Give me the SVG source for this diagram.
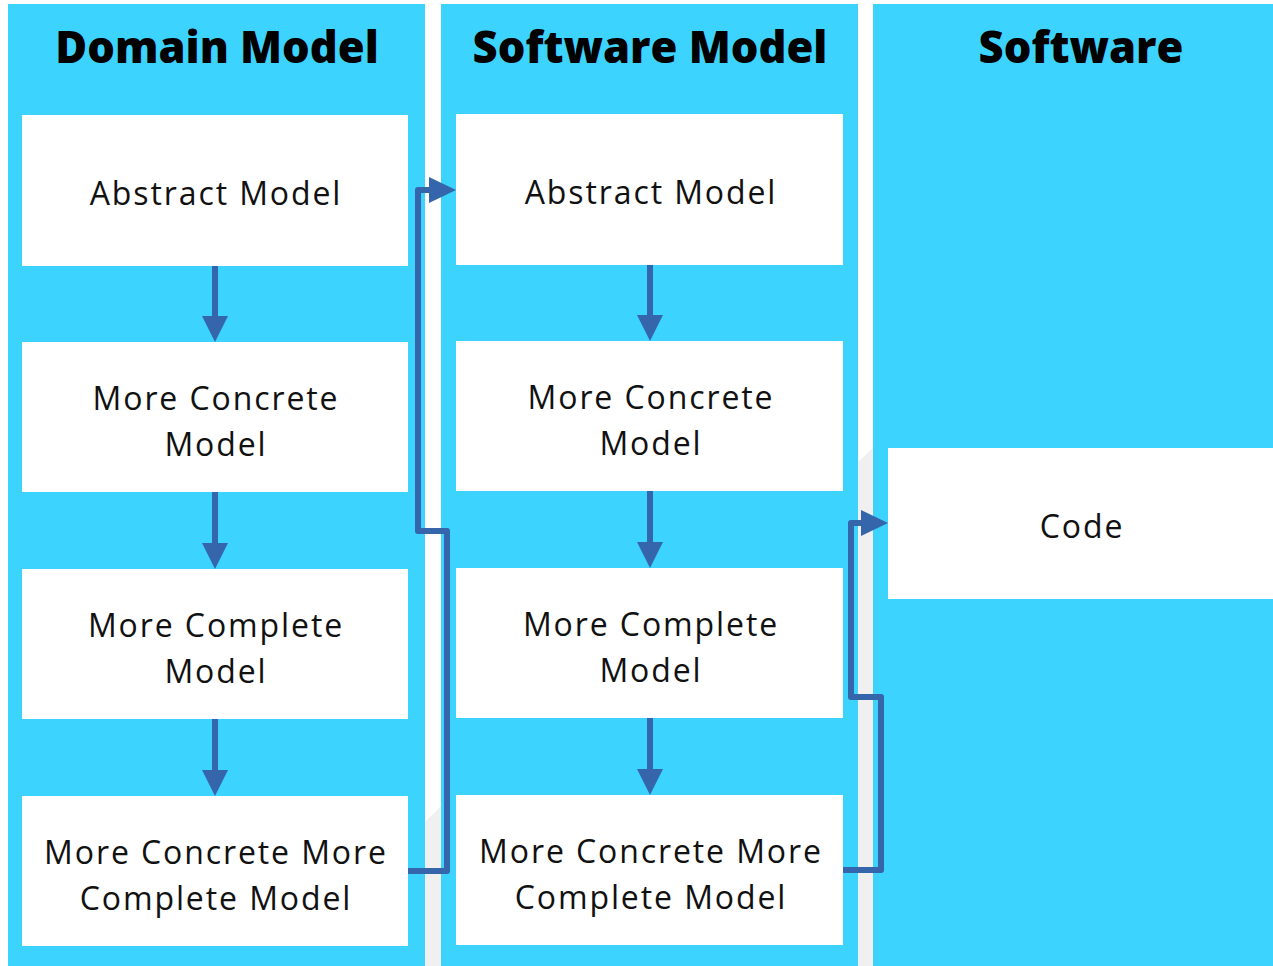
<svg xmlns="http://www.w3.org/2000/svg" width="1273" height="966" viewBox="0 0 1273 966">
  <style>
    .lane { fill: #3dd3ff; }
    .shade { fill: #f0f0f0; }
    .box { fill: #ffffff; }
    .title { font-family: "Open Sans", "DejaVu Sans", sans-serif; font-weight: 800; font-size: 43.5px; fill: #000; text-anchor: middle; }
    .label { font-family: "Open Sans", "DejaVu Sans", sans-serif; font-size: 32px; letter-spacing: 1.9px; fill: #111; text-anchor: middle; }
    .flow { fill: none; stroke: #3565ab; stroke-width: 6; stroke-linejoin: round; }
    .head { fill: #3565ab; }
  </style>
  <rect width="1273" height="966" fill="#ffffff"/>

  <!-- gutter shading between lanes -->
  <polygon class="shade" points="425,822 441,806 441,966 425,966"/>
  <polygon class="shade" points="858,462 873,448 873,966 858,966"/>

  <!-- lanes -->
  <g id="lane-domain">
    <rect class="lane" x="8" y="4" width="417" height="962"/>
    <text class="title" x="217" y="63">Domain Model</text>
  </g>
  <g id="lane-software-model">
    <rect class="lane" x="441" y="4" width="417" height="962"/>
    <text class="title" x="650" y="63">Software Model</text>
  </g>
  <g id="lane-software">
    <rect class="lane" x="873" y="4" width="400" height="962"/>
    <text class="title" x="1081" y="63">Software</text>
  </g>

  <!-- domain model nodes -->
  <g id="dm-abstract">
    <rect class="box" x="22" y="115" width="386" height="151"/>
    <text class="label" x="216" y="205">Abstract Model</text>
  </g>
  <g id="dm-concrete">
    <rect class="box" x="22" y="342" width="386" height="150"/>
    <text class="label" x="216" y="410">More Concrete</text>
    <text class="label" x="216" y="456">Model</text>
  </g>
  <g id="dm-complete">
    <rect class="box" x="22" y="569" width="386" height="150"/>
    <text class="label" x="216" y="637">More Complete</text>
    <text class="label" x="216" y="683">Model</text>
  </g>
  <g id="dm-concrete-complete">
    <rect class="box" x="22" y="796" width="386" height="150"/>
    <text class="label" x="216" y="864">More Concrete More</text>
    <text class="label" x="216" y="910">Complete Model</text>
  </g>

  <!-- software model nodes -->
  <g id="sm-abstract">
    <rect class="box" x="456" y="114" width="387" height="151"/>
    <text class="label" x="651" y="204">Abstract Model</text>
  </g>
  <g id="sm-concrete">
    <rect class="box" x="456" y="341" width="387" height="150"/>
    <text class="label" x="651" y="409">More Concrete</text>
    <text class="label" x="651" y="455">Model</text>
  </g>
  <g id="sm-complete">
    <rect class="box" x="456" y="568" width="387" height="150"/>
    <text class="label" x="651" y="636">More Complete</text>
    <text class="label" x="651" y="682">Model</text>
  </g>
  <g id="sm-concrete-complete">
    <rect class="box" x="456" y="795" width="387" height="150"/>
    <text class="label" x="651" y="863">More Concrete More</text>
    <text class="label" x="651" y="909">Complete Model</text>
  </g>

  <!-- software node -->
  <g id="code">
    <rect class="box" x="888" y="448" width="385" height="151"/>
    <text class="label" x="1082" y="538">Code</text>
  </g>

  <!-- connectors -->
  <g id="connectors">
    <path class="flow" d="M215,266 V318"/>
    <polygon class="head" points="202,316 228,316 215,342"/>
    <path class="flow" d="M215,492 V545"/>
    <polygon class="head" points="202,543 228,543 215,569"/>
    <path class="flow" d="M215,719 V772"/>
    <polygon class="head" points="202,770 228,770 215,796"/>

    <path class="flow" d="M650,265 V317"/>
    <polygon class="head" points="637,315 663,315 650,341"/>
    <path class="flow" d="M650,491 V544"/>
    <polygon class="head" points="637,542 663,542 650,568"/>
    <path class="flow" d="M650,718 V771"/>
    <polygon class="head" points="637,769 663,769 650,795"/>

    <path class="flow" d="M408,871 H447 V531 H418 V190 H432"/>
    <polygon class="head" points="429,177 456,190 429,203"/>

    <path class="flow" d="M843,870 H881 V697 H851 V523 H864"/>
    <polygon class="head" points="861,510 888,523 861,536"/>
  </g>
</svg>
